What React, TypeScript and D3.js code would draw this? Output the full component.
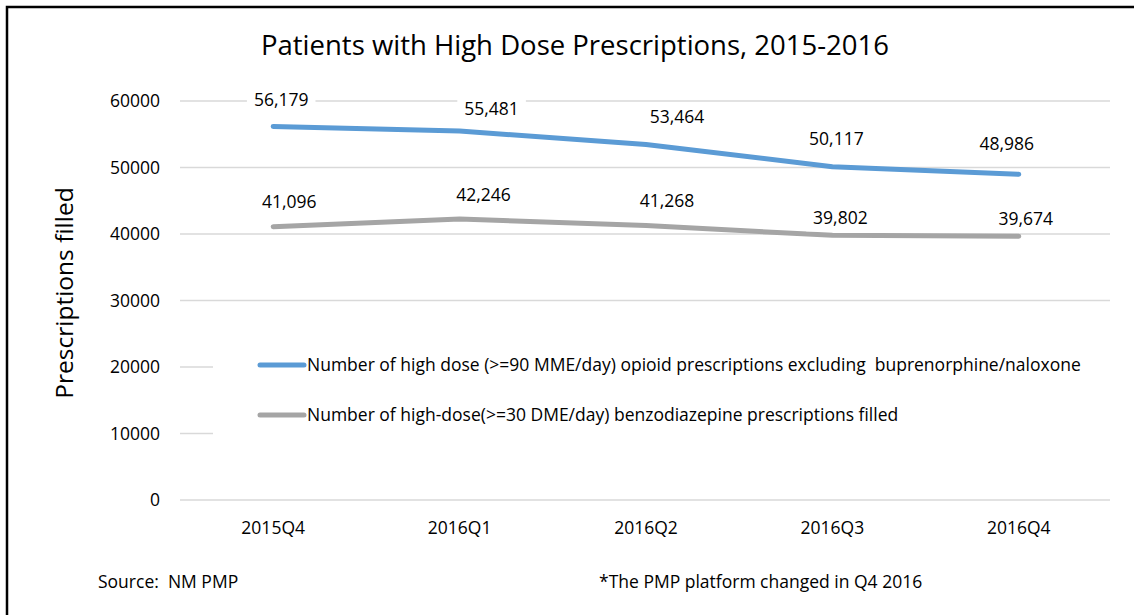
import { useEffect, useRef } from 'react';
import * as d3 from 'd3';

// chart data
const quarters = ['2015Q4', '2016Q1', '2016Q2', '2016Q3', '2016Q4'];
const opioidValues = [56179, 55481, 53464, 50117, 48986];
const benzoValues = [41096, 42246, 41268, 39802, 39674];
const yTicks = [0, 10000, 20000, 30000, 40000, 50000, 60000];
const seriesNames = [
  'Number of high dose (>=90 MME/day) opioid prescriptions excluding  buprenorphine/naloxone',
  'Number of high-dose(>=30 DME/day) benzodiazepine prescriptions filled',
];
const seriesColors = ['#5b9bd5', '#a5a5a5'];

// hand-placed data label nudges (px from the point), as in the original
const labelNudges = [
  [[8, -26], [32, -22], [31, -27], [4, -28], [-12, -30]],
  [[16, -25], [24, -24], [21, -25], [8, -17], [7, -17]],
];

const W = 1134;
const H = 615;
const FONT = '"Open Sans", Lato, sans-serif';
const FS = 17.5;

export default function App() {
  const svgRef = useRef<SVGSVGElement | null>(null);

  useEffect(() => {
    if (!svgRef.current) return;
    const svg = d3.select(svgRef.current);
    svg.selectAll('*').remove();

    const x = d3.scalePoint<string>().domain(quarters).range([180, 1112]).padding(0.5);
    const y = d3.scaleLinear().domain([0, 60000]).range([500, 101]);

    svg.append('rect').attr('width', W).attr('height', H).attr('fill', '#fff');

    // border (left and top visible)
    svg.append('path')
      .attr('d', `M7,${H} V7 H${W}`)
      .attr('fill', 'none')
      .attr('stroke', '#000')
      .attr('stroke-width', 2.5);

    // title
    svg.append('text')
      .attr('x', 575).attr('y', 55)
      .attr('text-anchor', 'middle')
      .attr('font-family', FONT).attr('font-size', 27.5)
      .attr('fill', '#000')
      .text('Patients with High Dose Prescriptions, 2015-2016');

    // grid
    svg.append('g').selectAll('line')
      .data(yTicks)
      .join('line')
      .attr('x1', 180).attr('x2', 1110)
      .attr('y1', d => y(d)).attr('y2', d => y(d))
      .attr('stroke', '#d9d9d9').attr('stroke-width', 1.3);

    // y tick labels
    svg.append('g').selectAll('text')
      .data(yTicks)
      .join('text')
      .attr('x', 160).attr('y', d => y(d) + 6)
      .attr('text-anchor', 'end')
      .attr('font-family', FONT).attr('font-size', FS)
      .text(d => String(d));

    // y axis title
    svg.append('text')
      .attr('transform', 'translate(73,293) rotate(-90)')
      .attr('text-anchor', 'middle')
      .attr('font-family', FONT).attr('font-size', 24.5)
      .text('Prescriptions filled');

    // x labels
    svg.append('g').selectAll('text')
      .data(quarters)
      .join('text')
      .attr('x', d => x(d) as number).attr('y', 534)
      .attr('text-anchor', 'middle')
      .attr('font-family', FONT).attr('font-size', FS)
      .text(d => d);

    // legend box hides gridlines behind it
    svg.append('rect')
      .attr('x', 213).attr('y', 320).attr('width', 899).attr('height', 125)
      .attr('fill', '#fff');

    const legendG = svg.append('g');
    seriesNames.forEach((name, i) => {
      const ly = 365 + i * 50;
      legendG.append('line')
        .attr('x1', 260).attr('x2', 304).attr('y1', ly).attr('y2', ly)
        .attr('stroke', seriesColors[i]).attr('stroke-width', 5)
        .attr('stroke-linecap', 'round');
      legendG.append('text')
        .attr('x', 307).attr('y', ly + 6)
        .attr('font-family', FONT).attr('font-size', FS)
        .attr('xml:space', 'preserve')
        .style('white-space', 'pre')
        .text(name);
    });

    // lines
    const line = d3.line<number>()
      .x((_, i) => x(quarters[i]) as number)
      .y(d => y(d));

    [opioidValues, benzoValues].forEach((vals, si) => {
      svg.append('path')
        .attr('d', line(vals))
        .attr('fill', 'none')
        .attr('stroke', seriesColors[si])
        .attr('stroke-width', 5)
        .attr('stroke-linecap', 'round')
        .attr('stroke-linejoin', 'round');
    });

    // data labels with white background
    const fmt = d3.format(',');
    [opioidValues, benzoValues].forEach((vals, si) => {
      vals.forEach((v, i) => {
        const [dx, dy] = labelNudges[si][i];
        const g = svg.append('g');
        const t = g.append('text')
          .attr('x', (x(quarters[i]) as number) + dx)
          .attr('y', y(v) + dy + 6)
          .attr('text-anchor', 'middle')
          .attr('font-family', FONT).attr('font-size', FS)
          .text(fmt(v));
        const bb = (t.node() as SVGTextElement).getBBox();
        g.insert('rect', 'text')
          .attr('x', bb.x - 7).attr('y', bb.y - 2)
          .attr('width', bb.width + 14).attr('height', bb.height + 4)
          .attr('fill', '#fff');
      });
    });

    // footer notes
    svg.append('text')
      .attr('x', 98).attr('y', 588)
      .attr('font-family', FONT).attr('font-size', FS)
      .attr('xml:space', 'preserve')
      .style('white-space', 'pre')
      .text('Source:  NM PMP');
    svg.append('text')
      .attr('x', 599).attr('y', 588)
      .attr('font-family', FONT).attr('font-size', FS)
      .text('*The PMP platform changed in Q4 2016');
  }, []);

  return (
    <svg
      ref={svgRef}
      width={W}
      height={H}
      style={{ position: 'absolute', left: 0, top: 0, display: 'block' }}
    />
  );
}
